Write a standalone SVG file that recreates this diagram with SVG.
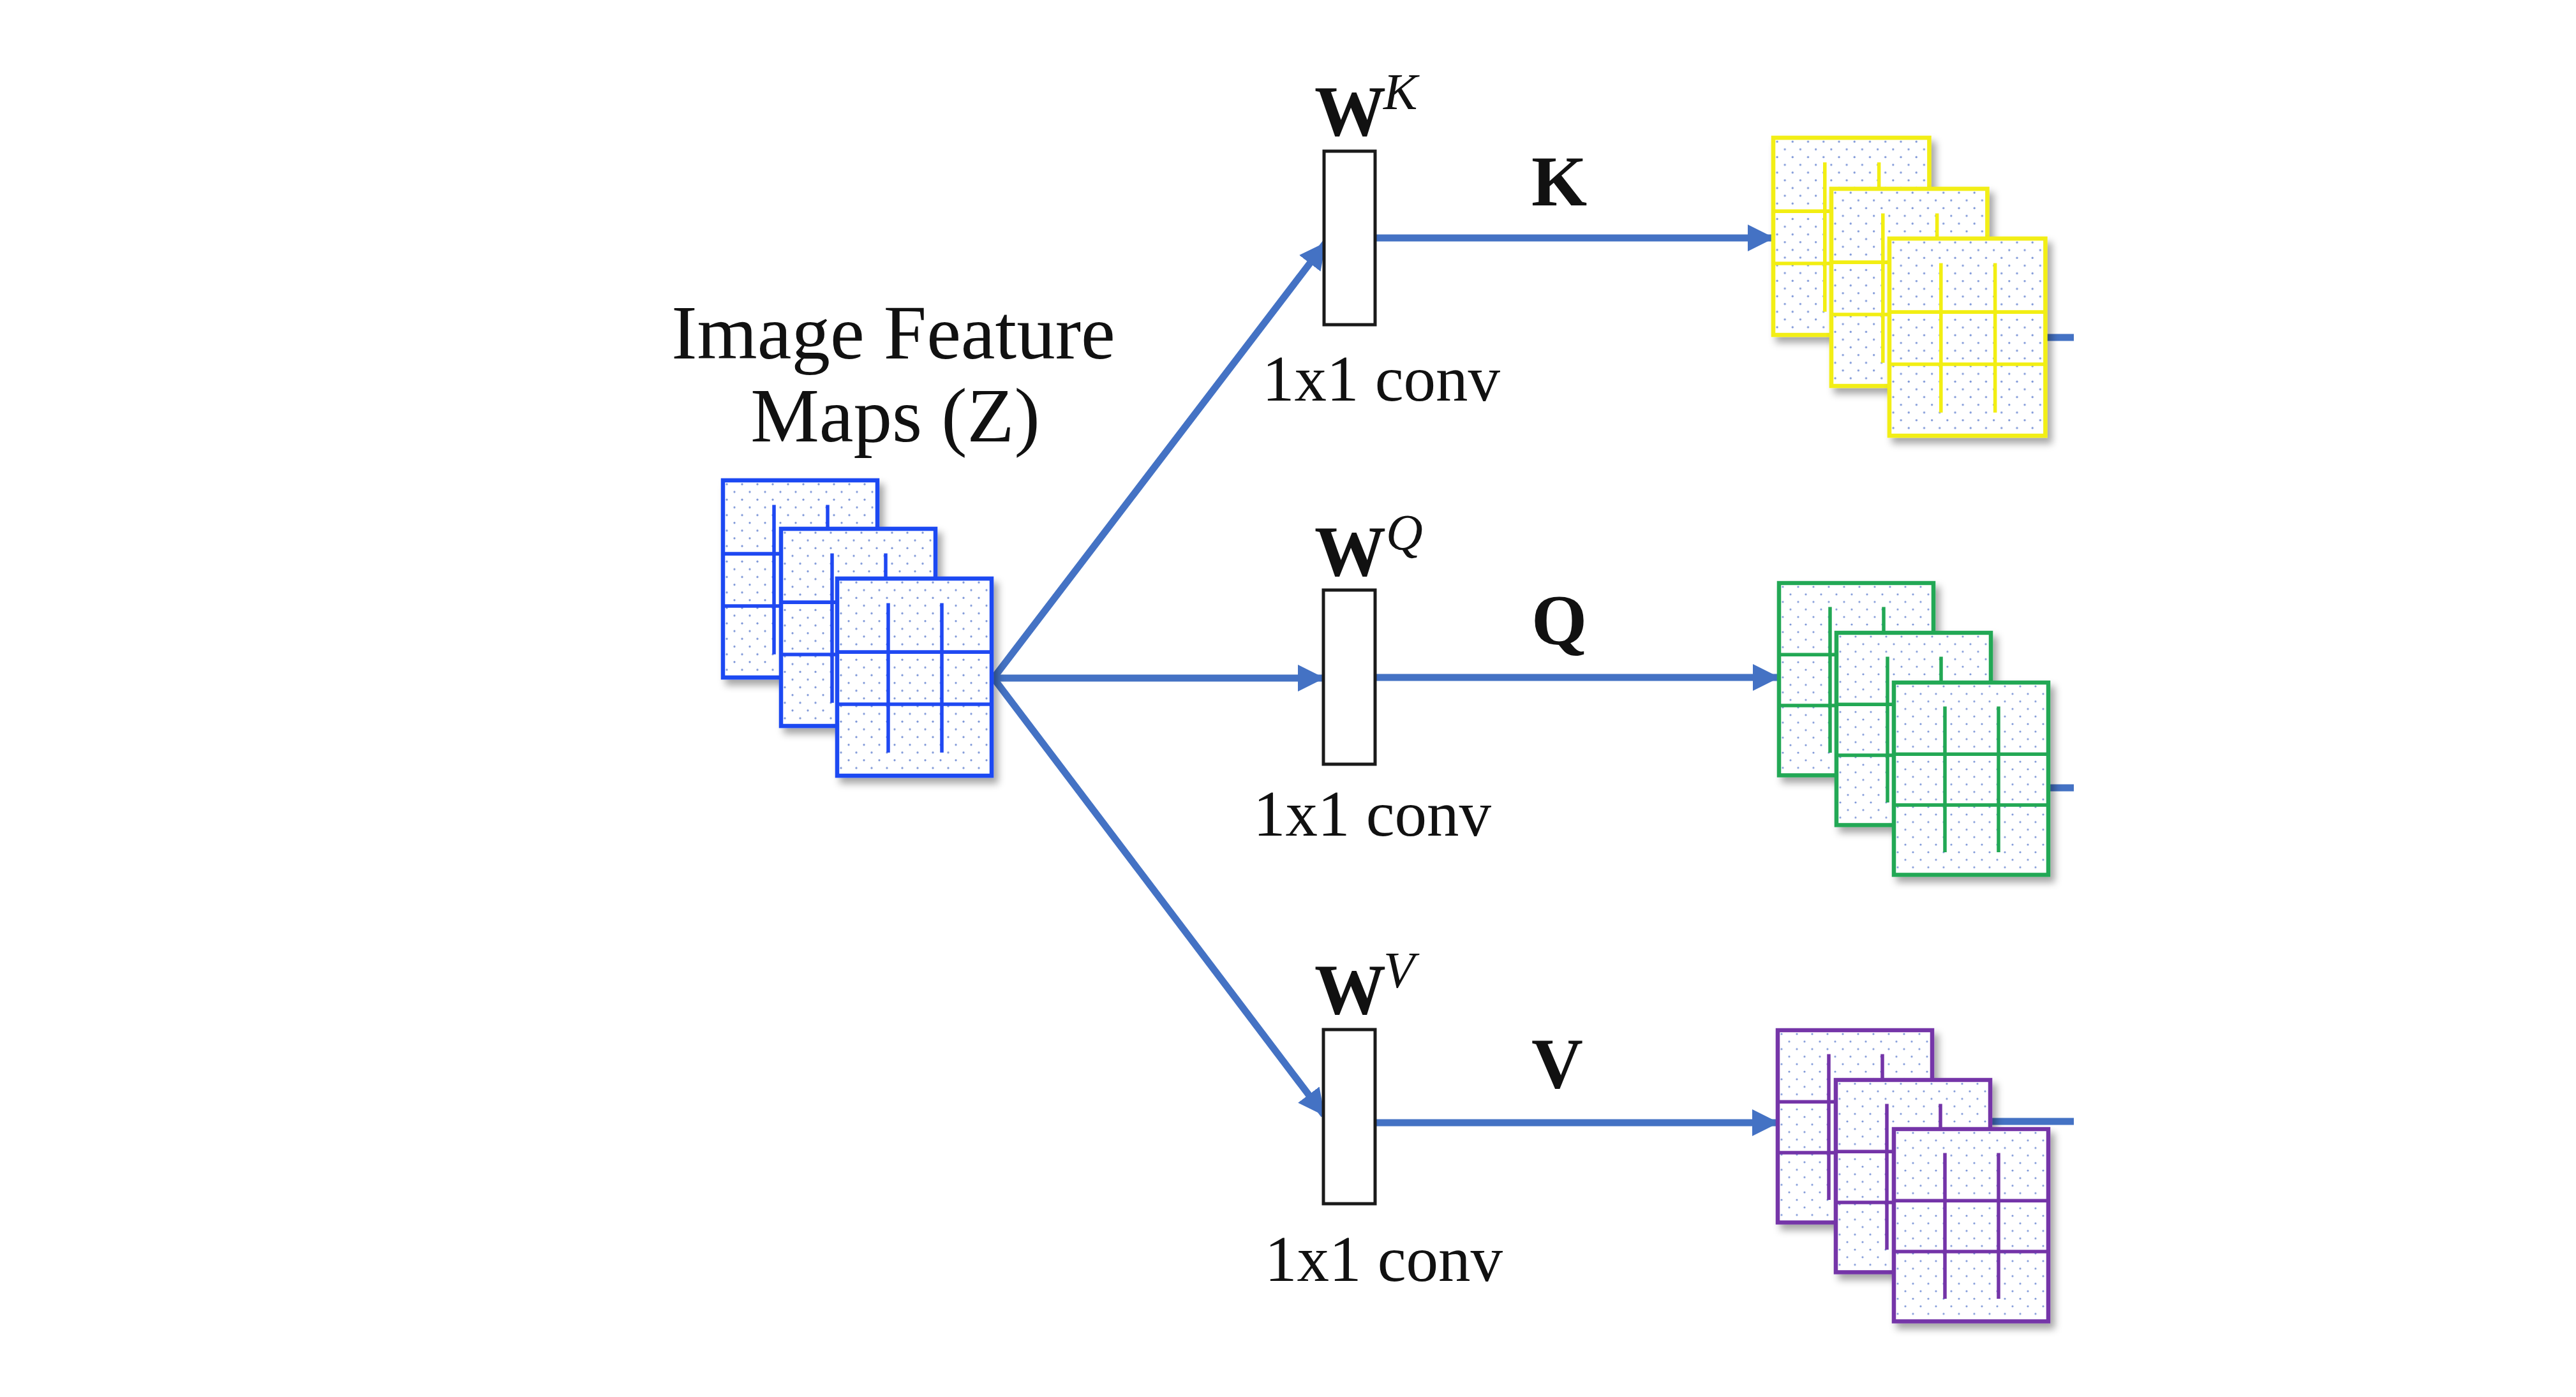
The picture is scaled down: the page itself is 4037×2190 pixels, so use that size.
<svg xmlns="http://www.w3.org/2000/svg" xmlns:xlink="http://www.w3.org/1999/xlink" width="4037" height="2190" viewBox="0 0 4037 2190">
<style>
.t{font-family:"Liberation Serif","Times New Roman",serif;fill:#111}
.title{font-size:121px}
.wb{font-size:112px;font-weight:bold}
.sup{font-size:80px;font-style:italic}
.lbl{font-size:112px;font-weight:bold}
.conv{font-size:101px}
.conn{fill:none;stroke:#4472C4;stroke-width:11}
.box{fill:#fff;stroke:#1a1a1a;stroke-width:5}
.sheet-bg{fill:url(#dots);stroke:currentColor;stroke-width:6.5}
.grid{stroke:currentColor;stroke-width:5.5;fill:none}
.blue{color:#1f48f2}
.yellow{color:#f2ee12}
.green{color:#22a854}
.purple{color:#7434a8}
</style>
<defs>
<pattern id="dots" width="24" height="24" patternUnits="userSpaceOnUse">
<rect width="24" height="24" fill="#fff"/>
<circle cx="6" cy="6" r="1.6" fill="#7e97d8"/>
<circle cx="18" cy="18" r="1.6" fill="#7e97d8"/>
</pattern>
<filter id="shadow" x="-10%" y="-10%" width="130%" height="130%">
<feDropShadow dx="7" dy="9" stdDeviation="6" flood-color="#000" flood-opacity="0.35"/>
</filter>
<g id="sheet">
<rect class="sheet-bg" x="0" y="0" width="242" height="306" filter="url(#shadow)"/>
<path class="grid" d="M0 114H242M0 195H242M80 38V270M164 38V270"/>
</g>
<marker id="ah" markerUnits="userSpaceOnUse" markerWidth="42" markerHeight="46" refX="40" refY="23" orient="auto">
<path d="M0 2L42 23L0 44z" fill="#4472C4"/>
</marker>
</defs>
<rect width="4037" height="2190" fill="#fff"/>

<g id="connectors">
<path class="conn" d="M3100 529H3250"/>
<path class="conn" d="M3100 1235H3250"/>
<path class="conn" d="M3100 1758H3250"/>
<path class="conn" d="M1557 1063L2077 381" marker-end="url(#ah)"/>
<path class="conn" d="M1557 1063H2074" marker-end="url(#ah)"/>
<path class="conn" d="M1557 1063L2075 1748" marker-end="url(#ah)"/>
<path class="conn" d="M2155 373H2779" marker-end="url(#ah)"/>
<path class="conn" d="M2155 1062H2787" marker-end="url(#ah)"/>
<path class="conn" d="M2155 1760H2786" marker-end="url(#ah)"/>
</g>

<g id="feature-maps-z" class="blue">
<use xlink:href="#sheet" transform="translate(1133,753) scale(1,1.01)"/>
<use xlink:href="#sheet" transform="translate(1224,829) scale(1,1.01)"/>
<use xlink:href="#sheet" transform="translate(1312,907) scale(1,1.01)"/>
</g>
<g id="feature-maps-label">
<text class="t title" x="1400" y="562" text-anchor="middle">Image Feature</text>
<text class="t title" x="1403" y="692" text-anchor="middle">Maps (Z)</text>
</g>

<g id="conv-k">
<rect class="box" x="2075" y="237" width="80" height="272"/>
<text class="t wb" x="2060" y="212">W</text>
<text class="t sup" x="2168" y="171">K</text>
<text class="t conv" x="1978" y="628">1x1 conv</text>
</g>
<g id="conv-q">
<rect class="box" x="2074" y="925" width="81" height="273"/>
<text class="t wb" x="2060" y="902">W</text>
<text class="t sup" x="2172" y="862">Q</text>
<text class="t conv" x="1964" y="1310">1x1 conv</text>
</g>
<g id="conv-v">
<rect class="box" x="2074" y="1614" width="81" height="273"/>
<text class="t wb" x="2060" y="1589">W</text>
<text class="t sup" x="2168" y="1548">V</text>
<text class="t conv" x="1982" y="2008">1x1 conv</text>
</g>

<g id="label-k"><text class="t lbl" x="2400" y="322">K</text></g>
<g id="label-q"><text class="t lbl" x="2400" y="1010">Q</text></g>
<g id="label-v"><text class="t lbl" x="2400" y="1705">V</text></g>

<g id="keys-k" class="yellow">
<use xlink:href="#sheet" transform="translate(2779,216) scale(1.01,1.01)"/>
<use xlink:href="#sheet" transform="translate(2870,296) scale(1.01,1.01)"/>
<use xlink:href="#sheet" transform="translate(2961,374) scale(1.01,1.01)"/>
</g>
<g id="queries-q" class="green">
<use xlink:href="#sheet" transform="translate(2788,914) scale(1,0.985)"/>
<use xlink:href="#sheet" transform="translate(2878,992) scale(1,0.985)"/>
<use xlink:href="#sheet" transform="translate(2968,1070) scale(1,0.985)"/>
</g>
<g id="values-v" class="purple">
<use xlink:href="#sheet" transform="translate(2786,1615) scale(1,0.985)"/>
<use xlink:href="#sheet" transform="translate(2877,1693) scale(1,0.985)"/>
<use xlink:href="#sheet" transform="translate(2968,1770) scale(1,0.985)"/>
</g>
</svg>
